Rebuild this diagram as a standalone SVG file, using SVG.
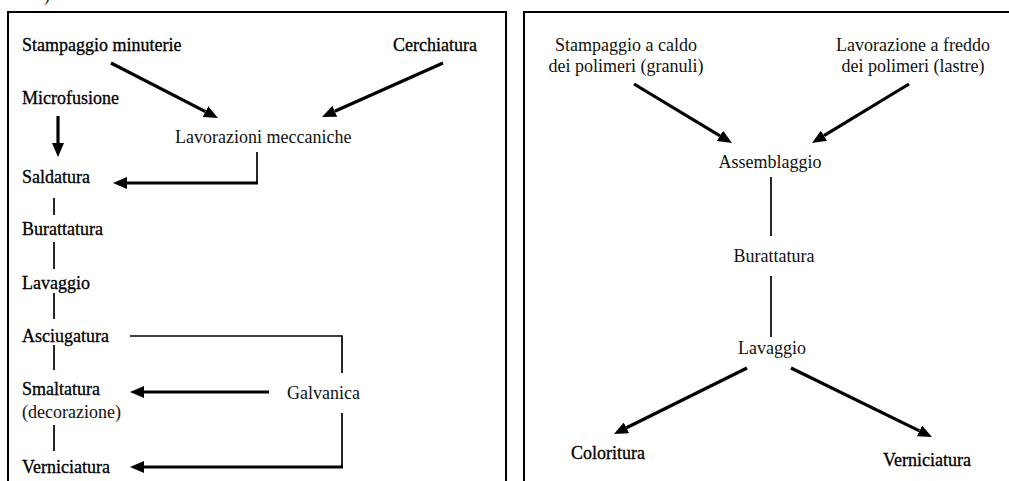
<svg xmlns="http://www.w3.org/2000/svg" width="1009" height="481" viewBox="0 0 1009 481">
<style>
text{font-family:'Liberation Serif','Times New Roman','DejaVu Serif',serif;font-size:18px;fill:#111}
.dk{fill:#000;stroke:#000;stroke-width:0.3}
.frame{fill:none;stroke:#000;stroke-width:2}
.thin{fill:none;stroke:#000;stroke-width:1.7}
.arr{fill:none;stroke:#000;stroke-width:3.2;marker-end:url(#ah)}
.mid{text-anchor:middle}
</style>
<defs>
<marker id="ah" viewBox="0 0 14 12" refX="0" refY="6" markerWidth="14" markerHeight="12" markerUnits="userSpaceOnUse" orient="auto">
<path d="M0,0 L14,6 L0,12 z" fill="#000"/>
</marker>
</defs>
<rect width="1009" height="481" fill="#fff"/>
<text x="44" y="1" font-family="Liberation Serif, serif">)</text>
<g id="frames">
<path class="frame" d="M8,490 V12 H506 V490"/>
<path class="frame" d="M524,490 V12 H1015"/>
</g>
<g id="connectors">
<line class="arr" x1="111" y1="63" x2="205.5" y2="111.6"/>
<line class="arr" x1="443" y1="63" x2="334.8" y2="111.3"/>
<line class="arr" x1="58" y1="116" x2="58" y2="143"/>
<line class="thin" x1="257" y1="152" x2="257" y2="183"/>
<line class="arr" x1="258" y1="183" x2="127" y2="183"/>
<line class="thin" x1="54" y1="198" x2="54" y2="215"/>
<line class="thin" x1="54" y1="242" x2="54" y2="269"/>
<line class="thin" x1="54" y1="293" x2="54" y2="319"/>
<line class="thin" x1="54" y1="345" x2="54" y2="370"/>
<line class="thin" x1="54" y1="425" x2="54" y2="451"/>
<path class="thin" d="M130,336 H342 V373"/>
<line class="arr" x1="269" y1="392" x2="144" y2="392"/>
<line class="thin" x1="342" y1="413" x2="342" y2="468"/>
<line class="arr" x1="343" y1="467" x2="144" y2="467"/>
<line class="arr" x1="634" y1="84" x2="720" y2="135.8"/>
<line class="arr" x1="909" y1="84" x2="824" y2="135.7"/>
<line class="thin" x1="771" y1="177" x2="771" y2="236"/>
<line class="thin" x1="771" y1="276" x2="771" y2="337"/>
<line class="arr" x1="747" y1="368" x2="626.5" y2="427.8"/>
<line class="arr" x1="791" y1="368" x2="919.4" y2="430.9"/>
</g>
<g id="n-stampaggio-minuterie"><text class="dk" x="22" y="51">Stampaggio minuterie</text></g>
<g id="n-cerchiatura"><text class="dk" x="477" y="51" text-anchor="end">Cerchiatura</text></g>
<g id="n-microfusione"><text class="dk" x="22" y="104">Microfusione</text></g>
<g id="n-lavorazioni"><text x="175" y="143">Lavorazioni meccaniche</text></g>
<g id="n-saldatura"><text class="dk" x="22" y="183">Saldatura</text></g>
<g id="n-burattatura-l"><text class="dk" x="22" y="235">Burattatura</text></g>
<g id="n-lavaggio-l"><text class="dk" x="22" y="289">Lavaggio</text></g>
<g id="n-asciugatura"><text class="dk" x="22" y="342">Asciugatura</text></g>
<g id="n-smaltatura"><text class="dk" x="22" y="395">Smaltatura</text><text x="22" y="418">(decorazione)</text></g>
<g id="n-verniciatura-l"><text class="dk" x="22" y="473">Verniciatura</text></g>
<g id="n-galvanica"><text x="287" y="399">Galvanica</text></g>
<g id="n-stampaggio-caldo"><text class="mid" x="626" y="51">Stampaggio a caldo</text><text class="mid" x="626" y="72">dei polimeri (granuli)</text></g>
<g id="n-lavorazione-freddo"><text class="mid" x="913" y="51">Lavorazione a freddo</text><text class="mid" x="913" y="72">dei polimeri (lastre)</text></g>
<g id="n-assemblaggio"><text class="mid" x="770" y="168">Assemblaggio</text></g>
<g id="n-burattatura-r"><text class="mid" x="774" y="262">Burattatura</text></g>
<g id="n-lavaggio-r"><text class="mid" x="772" y="354">Lavaggio</text></g>
<g id="n-coloritura"><text class="dk" x="571" y="459">Coloritura</text></g>
<g id="n-verniciatura-r"><text class="dk" x="883" y="466">Verniciatura</text></g>
</svg>
